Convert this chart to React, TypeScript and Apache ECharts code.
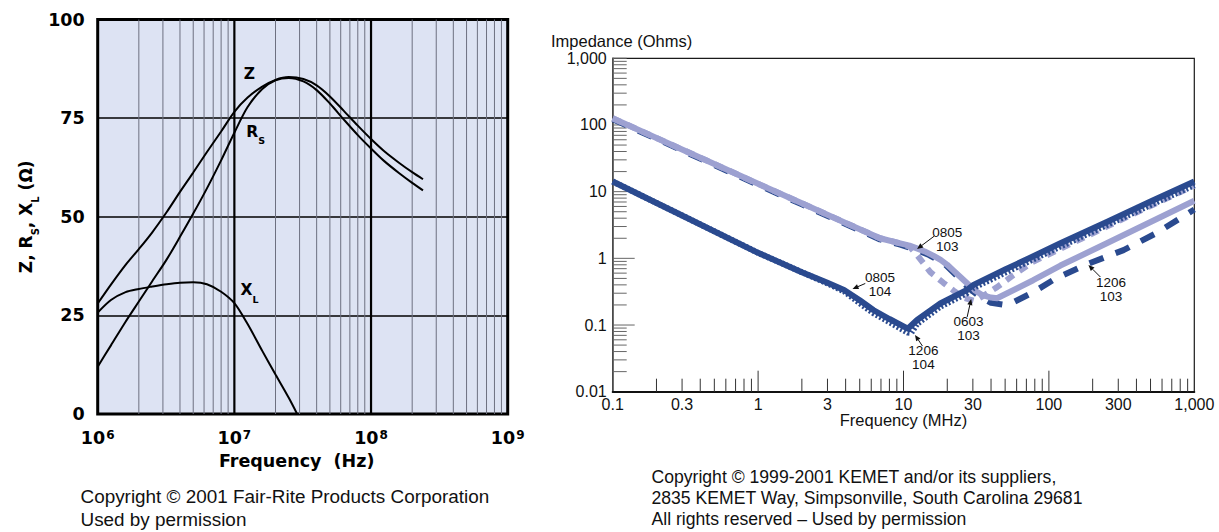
import React, { useEffect, useRef } from 'react';
import * as echarts from 'echarts';

// ---------- LEFT CHART DATA (Fair-Rite) ----------
const leftFreqs = [1e6, 1.25e6, 1.6e6, 2e6, 2.5e6, 3.2e6, 4e6, 5e6, 6.3e6, 8e6, 1e7, 1.25e7, 1.6e7, 2e7, 2.5e7, 3.2e7, 4e7, 5e7, 6.3e7, 8e7, 1e8, 1.25e8, 1.6e8, 2e8, 2.4e8];
const zValues = [28, 32.8, 37.8, 41.8, 46, 51.2, 56.3, 61.2, 66.4, 71.6, 76.6, 80.2, 83, 84.7, 85.4, 84.9, 83.3, 80.5, 76.9, 73.1, 69.7, 66.6, 63.7, 61.3, 59.5];
const rsValues = [12, 17.4, 23.4, 28.5, 33.6, 39.2, 44.9, 50.8, 57.2, 64.3, 71.3, 77.8, 82.4, 84.6, 85.2, 84.3, 82.1, 78.7, 74.7, 70.7, 67.3, 64.1, 61.1, 58.6, 56.7];
const xlFreqs = [1e6, 1.25e6, 1.6e6, 2e6, 2.5e6, 3.2e6, 4e6, 5e6, 6.3e6, 8e6, 1e7, 1.25e7, 1.6e7, 2e7, 2.5e7, 2.88e7];
const xlValues = [25.7, 28.9, 30.9, 31.7, 32.3, 32.9, 33.3, 33.4, 32.9, 31.0, 28.1, 22.8, 16.0, 10.0, 4.1, 0];
const leftMajorFreqs = [1e7, 1e8];
const leftMinorFreqs = [1e6, 1e7, 1e8].flatMap((d) => [2, 3, 4, 5, 6, 7, 8, 9].map((m) => m * d));
const leftCurveLabelTexts = ['{m|Z}', '{m|R}{s|S}', '{m|X}{s|L}'];
const leftCurveLabelPos = [[1.29e7, 85.7], [1.43e7, 71.0], [1.29e7, 30.9]];

// ---------- RIGHT CHART DATA (KEMET) ----------
const s0805_103 = [[0.1, 126], [0.2, 64], [0.5, 26], [1, 13.1], [2, 6.7], [4, 3.4], [6.9, 2.0], [9.5, 1.68], [11, 1.55], [12.5, 1.4], [14, 1.27], [16, 1.1], [18, 0.95], [20, 0.8], [22, 0.66], [24.5, 0.53], [27.5, 0.42], [31, 0.33], [35, 0.28], [40, 0.258], [44, 0.252], [78, 0.47], [120, 0.78], [250, 1.68], [1000, 7.3]];
const s0603_103 = [[0.1, 126], [0.2, 64], [0.5, 26], [1, 13.1], [2, 6.7], [4, 3.4], [6.9, 2.0], [9.5, 1.68], [11, 1.5], [12.4, 1.12], [15.3, 0.62], [18.8, 0.43], [22, 0.33], [26, 0.255], [31, 0.23], [36, 0.28], [44, 0.37], [57, 0.56], [77, 0.88], [100, 1.15], [250, 3.0], [1000, 12.4]];
const s1206_103 = [[0.1, 122], [0.2, 62], [0.5, 25.1], [1, 12.6], [2, 6.45], [4, 3.27], [6.9, 1.92], [9.5, 1.61], [12, 1.36], [15, 1.12], [18.8, 0.86], [23, 0.56], [28, 0.36], [34, 0.26], [40, 0.215], [48, 0.203], [56, 0.215], [78, 0.31], [110, 0.49], [184, 0.82], [326, 1.33], [550, 2.4], [1000, 5.4]];
const s0805_104 = [[0.1, 14.2], [0.3, 4.4], [1, 1.21], [2, 0.62], [3, 0.43], [3.9, 0.335], [5, 0.235], [6.2, 0.168], [8, 0.123], [10.7, 0.088], [12.4, 0.119], [17.9, 0.21], [27.3, 0.335], [30.3, 0.4], [50, 0.68], [87, 1.2], [120, 1.68], [250, 3.5], [500, 7.1], [1000, 14.2]];
const s1206_104 = [[0.1, 14.2], [0.3, 4.4], [1, 1.21], [2, 0.62], [3, 0.42], [3.9, 0.32], [5, 0.212], [6.2, 0.151], [8, 0.11], [10.7, 0.077], [11.3, 0.076], [12.4, 0.104], [17.9, 0.188], [27.3, 0.3], [30.3, 0.36], [50, 0.61], [87, 1.08], [120, 1.5], [250, 3.15], [500, 6.3], [1000, 12.5]];

const rightXLabelValues = [0.1, 0.3, 1, 3, 10, 30, 100, 300, 1000];
const rightXLabelTexts = ['0.1', '0.3', '1', '3', '10', '30', '100', '300', '1,000'];
const rightXMinorTicks = [0.1, 1, 10, 100].flatMap((d) => [2, 3, 4, 5, 6, 7, 8, 9].map((m) => m * d));
const rightXMajorTicks = [1, 10, 100];
const rightYMinorTicks = [0.01, 0.1, 1, 10, 100].flatMap((d) => [2, 3, 4, 5, 6, 7, 8, 9].map((m) => m * d)).concat([10, 100, 1000]);
const rightYMajorTicks = [0.1, 1];

const annoTexts = ['0805\n103', '0805\n104', '1206\n104', '0603\n103', '1206\n103'];
// [textF, textV, tailF, tailV, tipF, tipV]
const annoPos = [
  [20, 1.95, 16.3, 2.16, 12.4, 1.38],
  [6.9, 0.41, 5.46, 0.42, 4.46, 0.347],
  [13.7, 0.033, 13.5, 0.0484, 12.0, 0.071],
  [28, 0.0885, 27.4, 0.132, 29.2, 0.245],
  [267, 0.34, 226, 0.525, 187, 0.795],
];

const BOLD = '"DejaVu Sans", sans-serif';
const FONT = '"Liberation Sans", Arial, sans-serif';
const LIGHT = '#9da1d1';
const DARK = '#2a4a8f';

export default function App() {
  const ref = useRef<HTMLDivElement>(null);
  useEffect(() => {
    if (!ref.current) return;
    const chart = echarts.init(ref.current, undefined, { renderer: 'svg' });

    const vLine = (color: string, width: number) => (params: any, api: any) => {
      const p = api.coord([api.value(0), api.value(1)]);
      const cs = params.coordSys;
      return { type: 'line', shape: { x1: p[0], y1: cs.y, x2: p[0], y2: cs.y + cs.height }, style: { stroke: color, lineWidth: width } };
    };
    const yTick = (len: number) => (params: any, api: any) => {
      const p = api.coord([api.value(0), api.value(1)]);
      return { type: 'line', shape: { x1: p[0], y1: p[1], x2: p[0] + len, y2: p[1] }, style: { stroke: '#666', lineWidth: 1 } };
    };
    const xTick = (len: number) => (params: any, api: any) => {
      const p = api.coord([api.value(0), api.value(1)]);
      return { type: 'line', shape: { x1: p[0], y1: p[1], x2: p[0], y2: p[1] - len }, style: { stroke: '#333', lineWidth: 1 } };
    };

    const subRich = {
      m: { fontSize: 15.5, fontWeight: 'bold', fontFamily: BOLD, color: '#000', lineHeight: 20, verticalAlign: 'top' },
      s: { fontSize: 9.5, fontWeight: 'bold', fontFamily: BOLD, color: '#000', lineHeight: 10, verticalAlign: 'top', padding: [12, 0, 0, 0] },
    };

    const rightLine = (name: string, data: number[][], color: string, z: number, type: any) => ({
      type: 'line', name, xAxisIndex: 1, yAxisIndex: 1, z, symbol: 'none',
      lineStyle: { color, width: 6, type, cap: 'butt', join: 'round' },
      data,
    });

    const option: any = {
      animation: false,
      backgroundColor: '#fff',
      grid: [
        { left: 97.7, top: 19.5, width: 410, height: 394.5, show: true, backgroundColor: '#dde3f3', borderColor: '#000', borderWidth: 3 },
        { left: 612.7, top: 58.3, width: 581.6, height: 333.4, show: true, backgroundColor: 'transparent', borderColor: '#1a1a1a', borderWidth: 1.2 },
      ],
      xAxis: [
        {
          gridIndex: 0, type: 'log', logBase: 10, min: 1e6, max: 1e9,
          axisLine: { show: false }, axisTick: { show: false }, splitLine: { show: false },
          axisLabel: {
            margin: 15,
            formatter: (v: number) => `{b|10}{s|${Math.round(Math.log10(v))}}`,
            rich: {
              b: { fontSize: 17.5, fontWeight: 'bold', fontFamily: BOLD, color: '#000', lineHeight: 20, verticalAlign: 'top' },
              s: { fontSize: 12, fontWeight: 'bold', fontFamily: BOLD, color: '#000', lineHeight: 12, verticalAlign: 'top', padding: [0, 0, 0, 1] },
            },
          },
          name: 'Frequency  (Hz)', nameLocation: 'middle', nameGap: 38,
          nameTextStyle: { fontSize: 17.5, fontWeight: 'bold', fontFamily: BOLD, color: '#000', padding: [0, 12, 0, 0] },
        },
        {
          gridIndex: 1, type: 'log', logBase: 10, min: 0.1, max: 1000,
          axisLine: { show: true, lineStyle: { color: '#111', width: 2 } },
          axisTick: { show: false }, splitLine: { show: false }, axisLabel: { show: false },
          name: 'Frequency (MHz)', nameLocation: 'middle', nameGap: 20,
          nameTextStyle: { fontSize: 16.5, fontFamily: FONT, color: '#111' },
        },
      ],
      yAxis: [
        {
          gridIndex: 0, type: 'value', min: 0, max: 100, interval: 25,
          axisLine: { show: false }, axisTick: { show: false },
          splitLine: { show: true, lineStyle: { color: '#000', width: 1.7 } },
          axisLabel: { margin: 13, fontFamily: BOLD, fontWeight: 'bold', fontSize: 17.5, color: '#000' },
          name: '{m|Z, R}{s|S}{m|, X}{s|L}{m| (Ω)}', nameLocation: 'middle', nameRotate: 90, nameGap: 58,
          nameTextStyle: {
            rich: {
              m: { fontSize: 17, fontWeight: 'bold', fontFamily: BOLD, color: '#000', lineHeight: 22, verticalAlign: 'top' },
              s: { fontSize: 10, fontWeight: 'bold', fontFamily: BOLD, color: '#000', lineHeight: 10, verticalAlign: 'top', padding: [13, 0, 0, 0] },
            },
          },
        },
        {
          gridIndex: 1, type: 'log', logBase: 10, min: 0.01, max: 1000,
          axisLine: { show: true, lineStyle: { color: '#555', width: 1.5 } },
          axisTick: { show: false }, splitLine: { show: false },
          axisLabel: {
            margin: 6, fontSize: 16, fontFamily: FONT, color: '#111',
            formatter: (v: number) => (v >= 1000 ? '1,000' : String(v)),
          },
        },
      ],
      graphic: [
        { type: 'text', x: 551, y: 40.5, style: { text: 'Impedance (Ohms)', fontSize: 16.5, fontFamily: FONT, fill: '#111', verticalAlign: 'middle' } },
        { type: 'text', x: 80.5, y: 496.5, style: { text: 'Copyright © 2001 Fair-Rite Products Corporation', fontSize: 18.9, fontFamily: FONT, fill: '#111', verticalAlign: 'middle' } },
        { type: 'text', x: 80.5, y: 519, style: { text: 'Used by permission', fontSize: 18.9, fontFamily: FONT, fill: '#111', verticalAlign: 'middle' } },
        { type: 'text', x: 651.5, y: 477, style: { text: 'Copyright © 1999-2001 KEMET and/or its suppliers,', fontSize: 17.6, fontFamily: FONT, fill: '#111', verticalAlign: 'middle' } },
        { type: 'text', x: 651.5, y: 498, style: { text: '2835 KEMET Way, Simpsonville, South Carolina 29681', fontSize: 17.6, fontFamily: FONT, fill: '#111', verticalAlign: 'middle' } },
        { type: 'text', x: 651.5, y: 519, style: { text: 'All rights reserved – Used by permission', fontSize: 17.6, fontFamily: FONT, fill: '#111', verticalAlign: 'middle' } },
      ],
      series: [
        // left grid lines
        { type: 'custom', xAxisIndex: 0, yAxisIndex: 0, silent: true, z: 1, renderItem: vLine('#6d7080', 1), data: leftMinorFreqs.map((f) => [f, 0]) },
        { type: 'custom', xAxisIndex: 0, yAxisIndex: 0, silent: true, z: 2, renderItem: vLine('#000', 2.2), data: leftMajorFreqs.map((f) => [f, 0]) },
        // left curves
        { type: 'line', name: 'Z', xAxisIndex: 0, yAxisIndex: 0, z: 5, symbol: 'none', smooth: 0.3, lineStyle: { color: '#000', width: 2 }, data: leftFreqs.map((f, i) => [f, zValues[i]]) },
        { type: 'line', name: 'Rs', xAxisIndex: 0, yAxisIndex: 0, z: 5, symbol: 'none', smooth: 0.3, lineStyle: { color: '#000', width: 2 }, data: leftFreqs.map((f, i) => [f, rsValues[i]]) },
        { type: 'line', name: 'XL', xAxisIndex: 0, yAxisIndex: 0, z: 5, symbol: 'none', smooth: 0.3, lineStyle: { color: '#000', width: 2 }, data: xlFreqs.map((f, i) => [f, xlValues[i]]) },
        {
          type: 'custom', xAxisIndex: 0, yAxisIndex: 0, silent: true, z: 6, clip: false,
          data: leftCurveLabelPos,
          renderItem: (params: any, api: any) => {
            const p = api.coord([api.value(0), api.value(1)]);
            return { type: 'text', x: p[0], y: p[1], style: { text: leftCurveLabelTexts[params.dataIndex], rich: subRich, align: 'center', verticalAlign: 'middle' } };
          },
        },
        // right ticks
        { type: 'custom', xAxisIndex: 1, yAxisIndex: 1, silent: true, z: 2, clip: false, renderItem: yTick(14), data: rightYMinorTicks.map((v) => [0.1, v]) },
        { type: 'custom', xAxisIndex: 1, yAxisIndex: 1, silent: true, z: 2, clip: false, renderItem: yTick(22), data: rightYMajorTicks.map((v) => [0.1, v]) },
        { type: 'custom', xAxisIndex: 1, yAxisIndex: 1, silent: true, z: 2, clip: false, renderItem: xTick(13), data: rightXMinorTicks.map((f) => [f, 0.01]) },
        { type: 'custom', xAxisIndex: 1, yAxisIndex: 1, silent: true, z: 2, clip: false, renderItem: xTick(21), data: rightXMajorTicks.map((f) => [f, 0.01]) },
        {
          type: 'custom', xAxisIndex: 1, yAxisIndex: 1, silent: true, z: 2, clip: false,
          data: rightXLabelValues.map((f) => [f, 0.01]),
          renderItem: (params: any, api: any) => {
            const p = api.coord([api.value(0), api.value(1)]);
            return { type: 'text', x: p[0], y: p[1] + 13, style: { text: rightXLabelTexts[params.dataIndex], fontSize: 16, fontFamily: FONT, fill: '#111', align: 'center', verticalAlign: 'middle' } };
          },
        },
        // right curves
        rightLine('1206 103', s1206_103, DARK, 3, [15, 13]),
        rightLine('0603 103', s0603_103, LIGHT, 4, [9, 7]),
        rightLine('0805 103', s0805_103, LIGHT, 5, 'solid'),
        rightLine('1206 104', s1206_104, DARK, 6, [2, 2]),
        rightLine('0805 104', s0805_104, DARK, 7, 'solid'),
        // annotations
        {
          type: 'custom', xAxisIndex: 1, yAxisIndex: 1, silent: true, z: 10, clip: false,
          data: annoPos,
          renderItem: (params: any, api: any) => {
            const t = api.coord([api.value(0), api.value(1)]);
            const a = api.coord([api.value(2), api.value(3)]);
            const b = api.coord([api.value(4), api.value(5)]);
            const dx = b[0] - a[0];
            const dy = b[1] - a[1];
            const L = Math.hypot(dx, dy) || 1;
            const ux = dx / L;
            const uy = dy / L;
            const hl = 6;
            const hw = 2.6;
            const bx = b[0] - ux * hl;
            const by = b[1] - uy * hl;
            return {
              type: 'group',
              children: [
                { type: 'line', shape: { x1: a[0], y1: a[1], x2: bx, y2: by }, style: { stroke: '#111', lineWidth: 1 } },
                { type: 'polygon', shape: { points: [[b[0], b[1]], [bx - uy * hw, by + ux * hw], [bx + uy * hw, by - ux * hw]] }, style: { fill: '#111' } },
                { type: 'text', x: t[0], y: t[1], style: { text: annoTexts[params.dataIndex], fontSize: 13.5, lineHeight: 14, fontFamily: FONT, fill: '#111', align: 'center', verticalAlign: 'middle' } },
              ],
            };
          },
        },
      ],
    };
    chart.setOption(option);
    return () => chart.dispose();
  }, []);
  return <div ref={ref} style={{ position: 'absolute', left: 0, top: 0, width: 1219, height: 532, background: '#fff' }} />;
}
